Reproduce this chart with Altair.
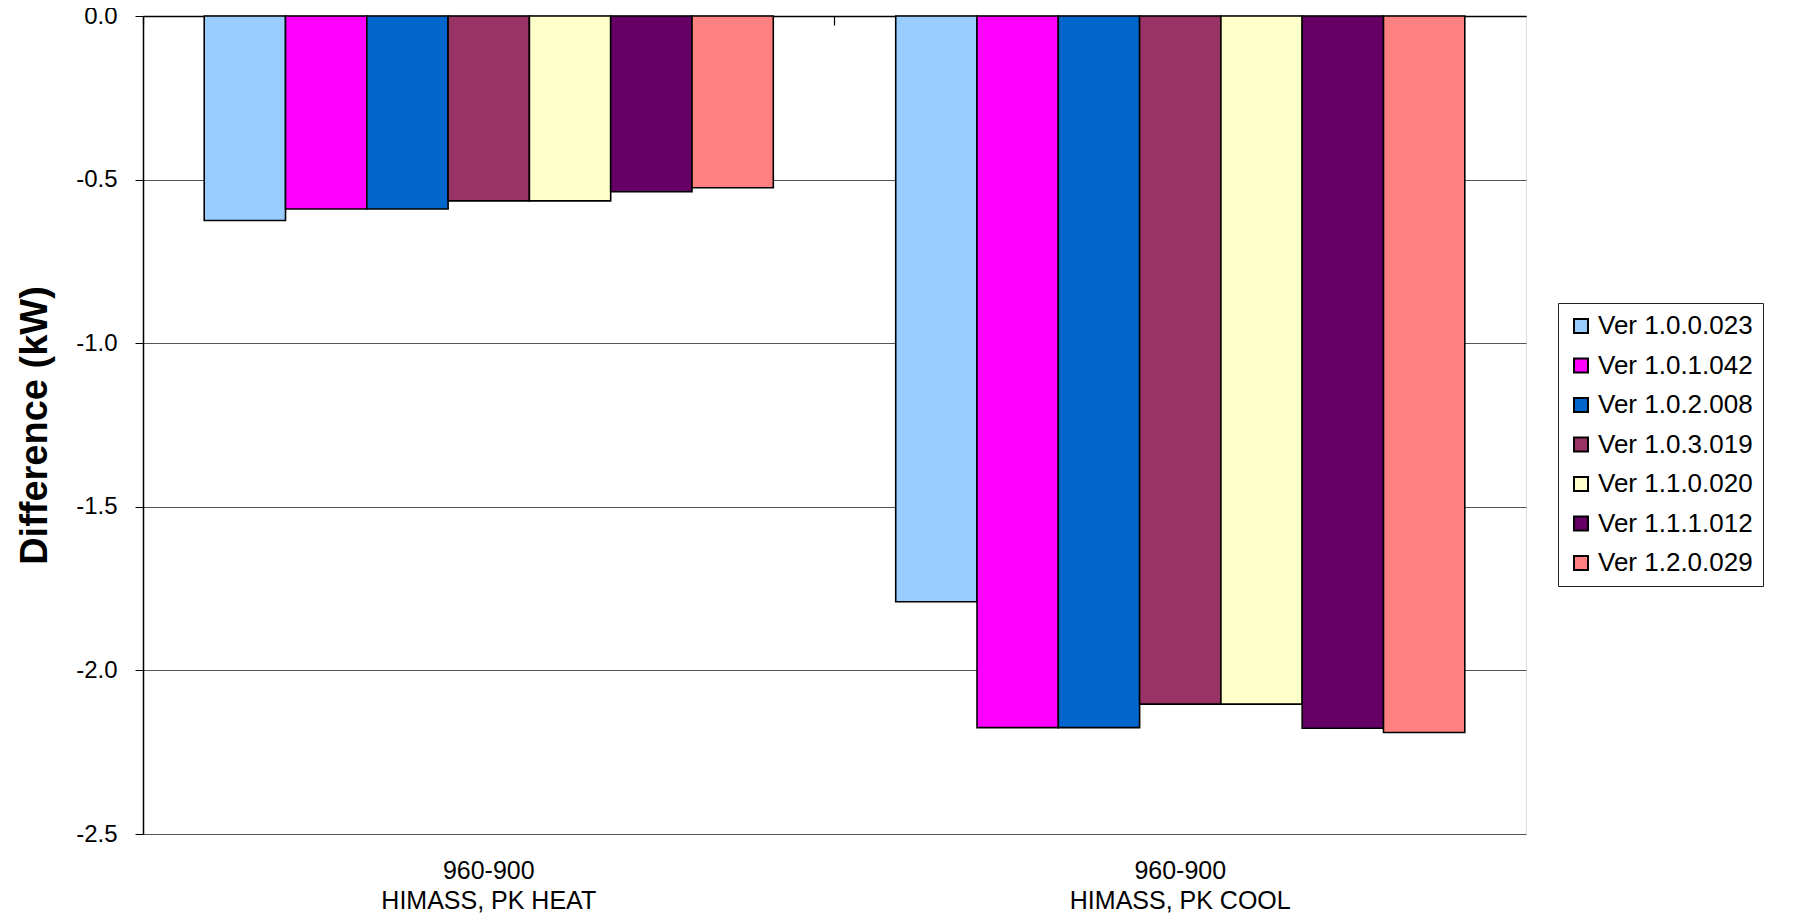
import altair as alt
import pandas as pd

categories = ["960-900|HIMASS, PK HEAT", "960-900|HIMASS, PK COOL"]
versions = ["Ver 1.0.0.023", "Ver 1.0.1.042", "Ver 1.0.2.008", "Ver 1.0.3.019",
            "Ver 1.1.0.020", "Ver 1.1.1.012", "Ver 1.2.0.029"]
colors = ["#99CCFF", "#FF00FF", "#0066CC", "#993366", "#FFFFCC", "#660066", "#FF8080"]
heat_values = [-0.625, -0.59, -0.59, -0.565, -0.565, -0.537, -0.525]
cool_values = [-1.79, -2.175, -2.175, -2.103, -2.103, -2.177, -2.19]
y_ticks = [0.0, -0.5, -1.0, -1.5, -2.0, -2.5]

rows = []
for v, h in zip(versions, heat_values):
    rows.append({"cat": categories[0], "ver": v, "val": h})
for v, c in zip(versions, cool_values):
    rows.append({"cat": categories[1], "ver": v, "val": c})
df = pd.DataFrame(rows)

FONT = "Liberation Sans, Arial, Helvetica, sans-serif"
W, H = 1383, 818

xscale = alt.Scale(domain=categories, paddingInner=0, paddingOuter=0)
yscale = alt.Scale(domain=[-2.5, 0], nice=False, zero=False)

bars = alt.Chart(df).mark_bar(stroke="black", strokeWidth=1.6).encode(
    x=alt.X("cat:N", scale=xscale, sort=categories, title=None,
            axis=alt.Axis(orient="bottom", domain=False, ticks=False, labelAngle=0,
                          labelExpr="split(datum.label, '|')", labelFontSize=25,
                          labelFont=FONT, labelColor="black", labelPadding=24,
                          labelLineHeight=30, labelBaseline="top", labelLimit=0)),
    xOffset=alt.XOffset("ver:N", sort=versions,
                        scale=alt.Scale(paddingInner=0, paddingOuter=0.753)),
    y=alt.Y("val:Q", scale=yscale, title="Difference (kW)",
            axis=alt.Axis(values=y_ticks,
                          labelExpr="replace(format(datum.value, '.1f'), '\u2212', '-')",
                          labelFontSize=24, labelFont=FONT,
                          labelColor="black", labelPadding=18, tickSize=8,
                          tickColor="black", domainColor="black", domainWidth=1.5,
                          grid=True, gridColor="#555555", gridWidth=1,
                          titleFont=FONT, titleFontSize=38, titleFontWeight="bold",
                          titleColor="black", titleX=-108, titleY=409, titleAngle=270,
                          titleAlign="center", titleBaseline="middle")),
    color=alt.Color("ver:N", sort=versions,
                    scale=alt.Scale(domain=versions, range=colors),
                    legend=alt.Legend(title=None, orient="none", legendX=1415, legendY=287,
                                      symbolType="square", symbolSize=196,
                                      symbolStrokeColor="black", symbolStrokeWidth=2,
                                      symbolOpacity=1,
                                      labelFontSize=26, labelFont=FONT, labelColor="black",
                                      labelOffset=4, labelLimit=400, rowPadding=13.5,
                                      padding=10, strokeColor="#222222", fillColor="white")),
)

top_axis = alt.Chart(df).mark_bar(opacity=0).encode(
    x=alt.X("cat:N", scale=xscale, sort=categories, title=None,
            axis=alt.Axis(orient="bottom", offset=-H, labels=False, bandPosition=0,
                          ticks=True, tickSize=9, tickColor="black", tickWidth=1.2,
                          domain=True, domainColor="black", domainWidth=1.5)),
    y=alt.Y("val:Q", scale=yscale),
)

chart = alt.layer(bars, top_axis).resolve_axis(x="independent").properties(
    width=W, height=H,
    autosize=alt.AutoSizeParams(type="none"),
    padding={"left": 135, "top": 8, "right": 261, "bottom": 79},
).configure_view(stroke="#808080", strokeWidth=2.5).configure(background="white")

chart.save("out.html", embed_options={"renderer": "svg", "actions": False})
